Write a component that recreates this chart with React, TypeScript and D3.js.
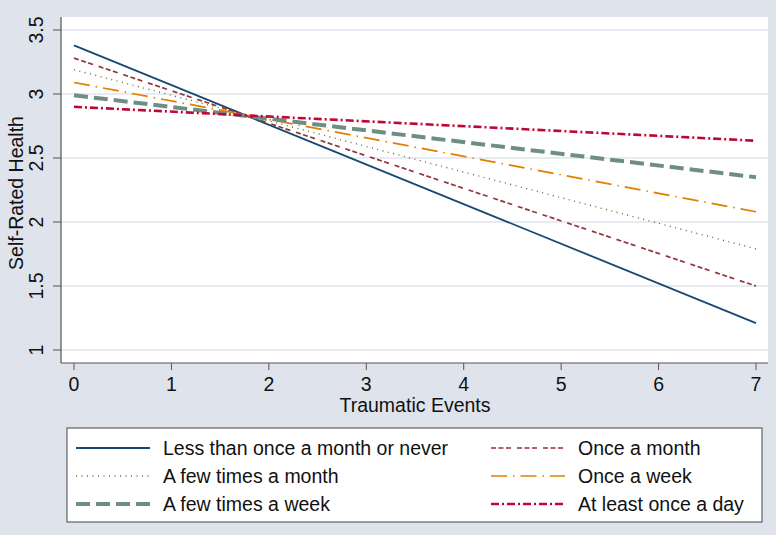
import React from 'react';
import * as d3 from 'd3';

// Predicted self-rated health by number of traumatic events
const events = [0, 7];
const groups = [
  'Less than once a month or never',
  'Once a month',
  'A few times a month',
  'Once a week',
  'A few times a week',
  'At least once a day',
];
const startValues = [3.38, 3.28, 3.19, 3.09, 2.99, 2.9];
const endValues = [1.21, 1.5, 1.79, 2.08, 2.35, 2.635];
const xTicks = [0, 1, 2, 3, 4, 5, 6, 7];
const yTicks = [1, 1.5, 2, 2.5, 3, 3.5];

const styles = [
  { color: '#1a476f', width: 1.8, dash: null },
  { color: '#90353b', width: 1.7, dash: '5,2.5,5,2.5,5,6' },
  { color: '#55752f', width: 1.4, dash: '1,4.5' },
  { color: '#e37e00', width: 1.7, dash: '16,6,1.5,6' },
  { color: '#6e8e84', width: 4, dash: '14,6' },
  { color: '#c10534', width: 2.6, dash: '8,3,2,3' },
];

const App = () => {
  const width = 776;
  const height = 535;
  const plot = { left: 61, right: 768, top: 17, bottom: 363 };

  const x = d3.scaleLinear().domain([0, 7]).range([74, 756]);
  const y = d3.scaleLinear().domain([1, 3.5]).range([350, 30]);

  const line = d3.line<[number, number]>()
    .x(d => x(d[0]))
    .y(d => y(d[1]));

  const font = 'Arial, "Liberation Sans", sans-serif';
  const fs = 19.5;

  return (
    <svg width={width} height={height} style={{ position: 'absolute', left: 0, top: 0 }}>
      <rect x={0} y={0} width={width} height={height} fill="#dfe4ec" />
      <rect x={plot.left} y={plot.top} width={plot.right - plot.left} height={plot.bottom - plot.top} fill="#fff" />

      {/* gridlines */}
      {yTicks.map(t => (
        <line key={'g' + t} x1={plot.left} x2={plot.right} y1={y(t)} y2={y(t)} stroke="#e1e6ee" strokeWidth={1.5} />
      ))}

      {/* series */}
      {groups.map((g, i) => (
        <path
          key={g}
          d={line(events.map((e, k) => [e, k === 0 ? startValues[i] : endValues[i]]) as [number, number][]) || ''}
          fill="none"
          stroke={styles[i].color}
          strokeWidth={styles[i].width}
          strokeDasharray={styles[i].dash || undefined}
        />
      ))}

      {/* axes */}
      <line x1={plot.left} x2={plot.left} y1={plot.top} y2={plot.bottom} stroke="#555" strokeWidth={1.2} />
      <line x1={plot.left} x2={plot.right} y1={plot.bottom} y2={plot.bottom} stroke="#555" strokeWidth={1.2} />

      {yTicks.map(t => (
        <g key={'y' + t}>
          <line x1={plot.left - 8} x2={plot.left} y1={y(t)} y2={y(t)} stroke="#555" strokeWidth={1} />
          <text
            transform={`translate(${plot.left - 18},${y(t)}) rotate(-90)`}
            textAnchor="middle"
            fontFamily={font}
            fontSize={fs}
            fill="#111"
          >
            {t}
          </text>
        </g>
      ))}
      <text
        transform={`translate(23,${(plot.top + plot.bottom) / 2 + 3}) rotate(-90)`}
        textAnchor="middle"
        fontFamily={font}
        fontSize={fs}
        fill="#111"
      >
        Self-Rated Health
      </text>

      {xTicks.map(t => (
        <g key={'x' + t}>
          <line x1={x(t)} x2={x(t)} y1={plot.bottom} y2={plot.bottom + 7} stroke="#555" strokeWidth={1} />
          <text x={x(t)} y={plot.bottom + 28} textAnchor="middle" fontFamily={font} fontSize={fs} fill="#111">
            {t}
          </text>
        </g>
      ))}
      <text x={(x(0) + x(7)) / 2} y={plot.bottom + 49} textAnchor="middle" fontFamily={font} fontSize={fs} fill="#111">
        Traumatic Events
      </text>

      {/* legend */}
      <rect x={67} y={428} width={695} height={94} fill="#fff" stroke="#444" strokeWidth={1} />
      {groups.map((g, i) => {
        const col = i % 2;
        const row = Math.floor(i / 2);
        const lx = col === 0 ? 76 : 491;
        const ly = 448 + row * 28;
        return (
          <g key={'l' + g}>
            <line
              x1={lx}
              x2={lx + 74}
              y1={ly}
              y2={ly}
              stroke={styles[i].color}
              strokeWidth={styles[i].width}
              strokeDasharray={styles[i].dash || undefined}
            />
            <text x={lx + 87} y={ly + 7} fontFamily={font} fontSize={fs} fill="#111">
              {g}
            </text>
          </g>
        );
      })}
    </svg>
  );
};

export default App;
